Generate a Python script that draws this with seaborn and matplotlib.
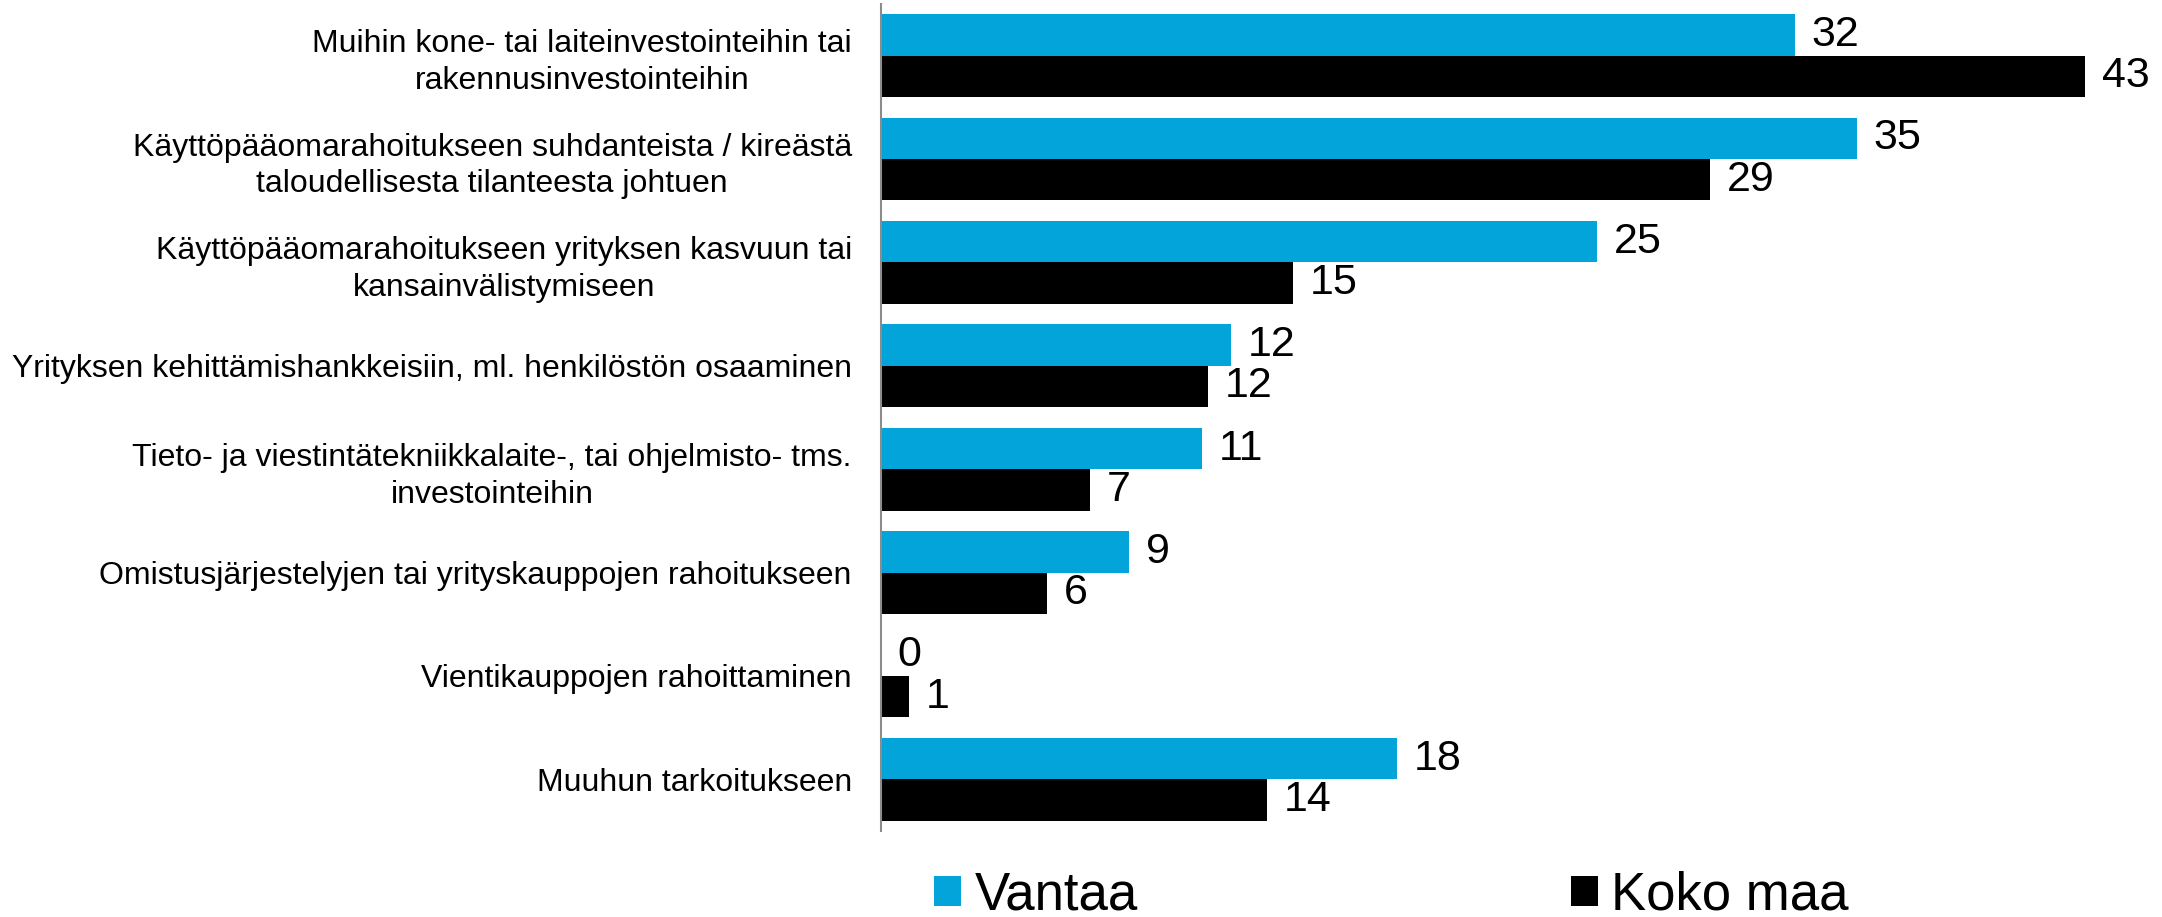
import matplotlib
matplotlib.use("Agg")
import matplotlib.pyplot as plt
import seaborn as sns
import pandas as pd

categories = [
    "Muihin kone- tai laiteinvestointeihin tai\nrakennusinvestointeihin",
    "Käyttöpääomarahoitukseen suhdanteista / kireästä\ntaloudellisesta tilanteesta johtuen",
    "Käyttöpääomarahoitukseen yrityksen kasvuun tai\nkansainvälistymiseen",
    "Yrityksen kehittämishankkeisiin, ml. henkilöstön osaaminen",
    "Tieto- ja viestintätekniikkalaite-, tai ohjelmisto- tms.\ninvestointeihin",
    "Omistusjärjestelyjen tai yrityskauppojen rahoitukseen",
    "Vientikauppojen rahoittaminen",
    "Muuhun tarkoitukseen",
]
series_names = ["Vantaa", "Koko maa"]
vantaa = [32.4, 34.6, 25.4, 12.4, 11.4, 8.8, 0.0, 18.3]
koko_maa = [42.7, 29.4, 14.6, 11.6, 7.4, 5.9, 1.0, 13.7]
colors = ["#02A4D9", "#000000"]

sns.set_style("white")
plt.rcParams["font.family"] = ["Liberation Sans", "DejaVu Sans"]
plt.rcParams["text.color"] = "black"
plt.rcParams["ytick.color"] = "black"
plt.rcParams["ytick.labelcolor"] = "black"

df = pd.DataFrame({
    "category": categories * 2,
    "value": vantaa + koko_maa,
    "series": [series_names[0]] * len(categories) + [series_names[1]] * len(categories),
})

fig = plt.figure(figsize=(21.62, 9.17), dpi=100)
ax = fig.add_axes([881 / 2162, 1 - 831 / 917, 1269 / 2162, (831 - 4) / 917])

sns.barplot(data=df, y="category", x="value", hue="series", orient="h",
            palette=colors, saturation=1, linewidth=0, ax=ax, errorbar=None)

for cont, vals in zip(ax.containers, [vantaa, koko_maa]):
    ax.bar_label(cont, labels=[f"{round(v):d}" for v in vals], fontsize=31,
                 padding=12, color="black")

ax.set_xlim(0, 45)
ax.set_ylim(7.5, -0.5)
ax.set_xlabel("")
ax.set_ylabel("")
ax.set_xticks([])
ax.tick_params(axis="y", length=0, pad=21, labelsize=23, labelcolor="black")
for lbl in ax.get_yticklabels():
    lbl.set_multialignment("center")
    lbl.set_linespacing(1.3)
    lbl.set_color("black")
for s in ["top", "right", "bottom"]:
    ax.spines[s].set_visible(False)
ax.spines["left"].set_color("#8C8C8C")
ax.spines["left"].set_linewidth(1.5)

handles, labels = ax.get_legend_handles_labels()
if ax.get_legend() is not None:
    ax.get_legend().remove()
leg = fig.legend(handles, labels, loc="center left", bbox_to_anchor=(934 / 2162, 1 - 896 / 917),
                 ncol=2, frameon=False, fontsize=38, handlelength=0.51, handleheight=0.51,
                 handletextpad=0.26, columnspacing=8.2, borderpad=0, borderaxespad=0)
for t in leg.get_texts():
    t.set_color("black")

fig.savefig("out.png", dpi=100)
